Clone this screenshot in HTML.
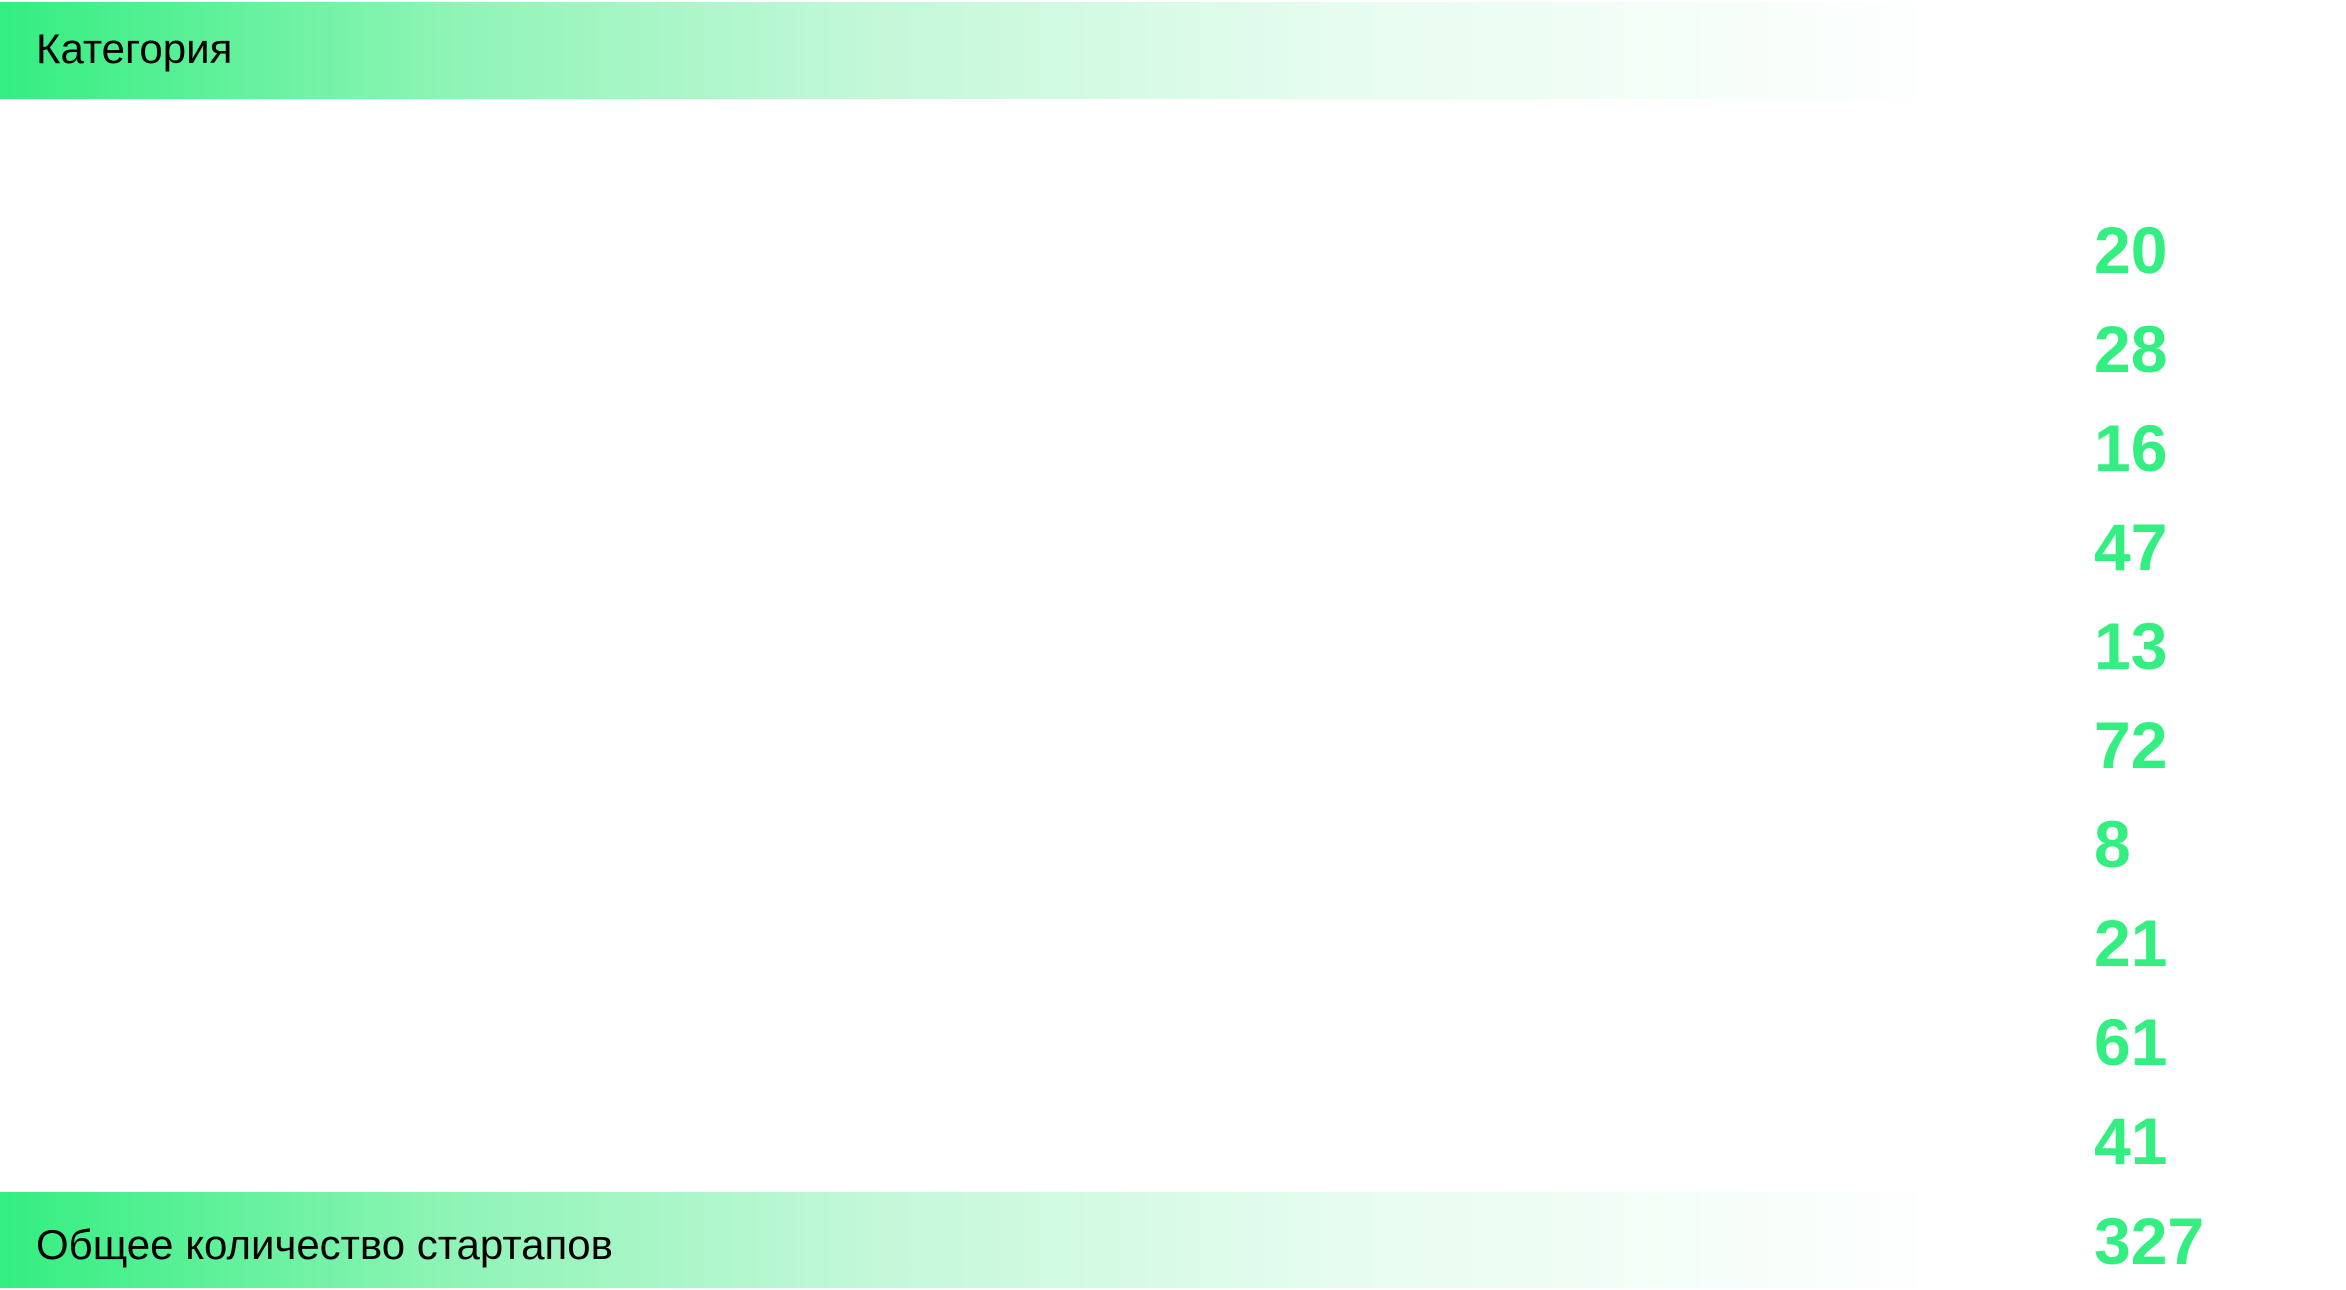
<!DOCTYPE html>
<html><head><meta charset="utf-8"><style>
html,body{margin:0;padding:0;background:#fff;}
body{width:2346px;height:1290px;position:relative;overflow:hidden;font-family:"Liberation Sans",sans-serif;}
.band{position:absolute;left:0;width:2060px;background:linear-gradient(90deg,#33ee80 0%,#8ff4b6 22%,#c2f8d8 42%,#e6fcef 65%,#fff 95%,#fff 100%);}
.lbl{position:absolute;left:36px;font-size:42px;color:#000;line-height:1;}
.n{position:absolute;left:2094px;font-size:66px;font-weight:bold;color:#33ee80;line-height:1;transform:translateY(-50%);}
</style></head><body>
<div class="band" style="top:2px;height:97px;"></div>
<div class="lbl" style="top:28px;">Категория</div>
<div class="band" style="top:1192px;height:96px;"></div>
<div class="lbl" style="top:1224px;">Общее количество стартапов</div>
<div class="n" style="top:250px">20</div>
<div class="n" style="top:349px">28</div>
<div class="n" style="top:448px">16</div>
<div class="n" style="top:547px">47</div>
<div class="n" style="top:646px">13</div>
<div class="n" style="top:745px">72</div>
<div class="n" style="top:844px">8</div>
<div class="n" style="top:943px">21</div>
<div class="n" style="top:1042px">61</div>
<div class="n" style="top:1141px">41</div>
<div class="n" style="top:1241px">327</div>
</body></html>
